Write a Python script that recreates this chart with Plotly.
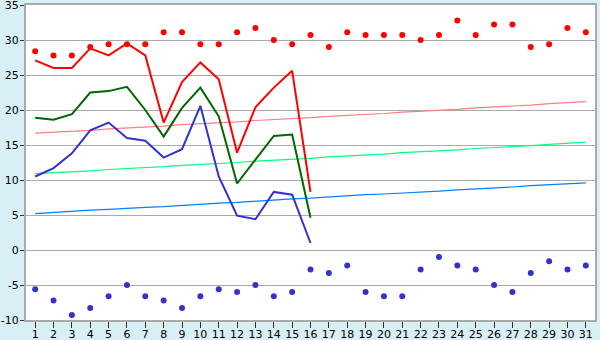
import plotly.graph_objects as go

days = list(range(1, 32))

# record highs (red dots) and record lows (blue dots)
rec_max = [28.4, 27.8, 27.8, 29.0, 29.4, 29.4, 29.4, 31.1, 31.1, 29.4,
           29.4, 31.1, 31.7, 30.0, 29.4, 30.7, 29.0, 31.1, 30.7, 30.7,
           30.7, 30.0, 30.7, 32.8, 30.7, 32.2, 32.2, 29.0, 29.4, 31.7, 31.1]
rec_min = [-5.6, -7.2, -9.3, -8.3, -6.6, -5.0, -6.6, -7.2, -8.3, -6.6,
           -5.6, -6.0, -5.0, -6.6, -6.0, -2.8, -3.3, -2.2, -6.0, -6.6,
           -6.6, -2.8, -1.0, -2.2, -2.8, -5.0, -6.0, -3.3, -1.6, -2.8, -2.2]

# observed values, days 1-16
obs_days = list(range(1, 17))
t_max = [27.1, 26.0, 26.0, 28.8, 27.8, 29.5, 27.8, 18.2, 24.0, 26.8,
         24.4, 13.9, 20.4, 23.2, 25.6, 8.3]
t_mean = [18.9, 18.6, 19.4, 22.5, 22.7, 23.3, 20.0, 16.2, 20.3, 23.2,
          19.1, 9.5, 12.9, 16.3, 16.5, 4.6]
t_min = [10.5, 11.7, 13.8, 17.1, 18.2, 16.0, 15.6, 13.2, 14.4, 20.6,
         10.5, 4.9, 4.4, 8.3, 7.9, 1.0]

# normals
norm_max = [16.7, 16.8, 17.0, 17.1, 17.3, 17.4, 17.6, 17.7, 17.9, 18.0,
            18.2, 18.3, 18.5, 18.6, 18.8, 18.9, 19.1, 19.2, 19.4, 19.5,
            19.7, 19.8, 20.0, 20.1, 20.3, 20.4, 20.6, 20.7, 20.9, 21.0, 21.2]
norm_mean = [10.9, 11.0, 11.2, 11.3, 11.5, 11.6, 11.8, 11.9, 12.1, 12.2,
             12.4, 12.5, 12.7, 12.8, 13.0, 13.1, 13.3, 13.4, 13.6, 13.7,
             13.9, 14.0, 14.2, 14.3, 14.5, 14.6, 14.8, 14.9, 15.1, 15.2, 15.4]
norm_min = [5.2, 5.4, 5.5, 5.7, 5.8, 6.0, 6.1, 6.2, 6.4, 6.5,
            6.7, 6.8, 7.0, 7.1, 7.3, 7.4, 7.6, 7.7, 7.9, 8.0,
            8.1, 8.3, 8.4, 8.6, 8.7, 8.9, 9.0, 9.2, 9.3, 9.5, 9.6]

y_ticks = [-10, -5, 0, 5, 10, 15, 20, 25, 30, 35]
y_labels = ["-10", "-5", "0", "5", "10", "15", "20", "25", "30", "35"]

fig = go.Figure()
fig.add_trace(go.Scatter(x=days, y=norm_max, mode="lines",
                         line=dict(color="#ff8080", width=1.2)))
fig.add_trace(go.Scatter(x=days, y=norm_mean, mode="lines",
                         line=dict(color="#00ff80", width=1.2)))
fig.add_trace(go.Scatter(x=days, y=norm_min, mode="lines",
                         line=dict(color="#0080ff", width=1.2)))
fig.add_trace(go.Scatter(x=obs_days, y=t_max, mode="lines",
                         line=dict(color="#ff0000", width=2)))
fig.add_trace(go.Scatter(x=obs_days, y=t_mean, mode="lines",
                         line=dict(color="#006600", width=2)))
fig.add_trace(go.Scatter(x=obs_days, y=t_min, mode="lines",
                         line=dict(color="#3333cc", width=2)))
fig.add_trace(go.Scatter(x=days, y=rec_max, mode="markers",
                         marker=dict(color="#ff0000", size=6, symbol="circle")))
fig.add_trace(go.Scatter(x=days, y=rec_min, mode="markers",
                         marker=dict(color="#3333cc", size=6, symbol="circle")))

fig.update_layout(
    width=600, height=340,
    margin=dict(l=26, r=5, t=5, b=20, autoexpand=False),
    paper_bgcolor="#d9eff6",
    plot_bgcolor="#ffffff",
    showlegend=False,
    font=dict(family="DejaVu Sans", size=11, color="#000000"),
)
fig.update_xaxes(
    range=[0.5, 31.5], tickmode="array", tickvals=days,
    ticktext=[str(d) for d in days],
    showgrid=False, zeroline=False, automargin=False,
    ticks="outside", ticklen=6, tickcolor="#333333", tickwidth=1,
    showline=True, linecolor="#aaaaaa", linewidth=2, mirror=True,
    ticklabelstandoff=-3, ticklabeloverflow="allow",
    tickfont=dict(size=11),
)
fig.update_yaxes(
    range=[-10, 35], tickmode="array", tickvals=y_ticks, ticktext=y_labels,
    showgrid=True, gridcolor="#aaaaaa", gridwidth=1, zeroline=False,
    automargin=False,
    showline=True, linecolor="#aaaaaa", linewidth=2, mirror=True,
    ticks="outside", ticklen=4, tickcolor="#333333", tickwidth=1,
    ticklabelstandoff=-1, ticklabeloverflow="allow",
    tickfont=dict(size=11),
)

fig.write_html("out.html")
